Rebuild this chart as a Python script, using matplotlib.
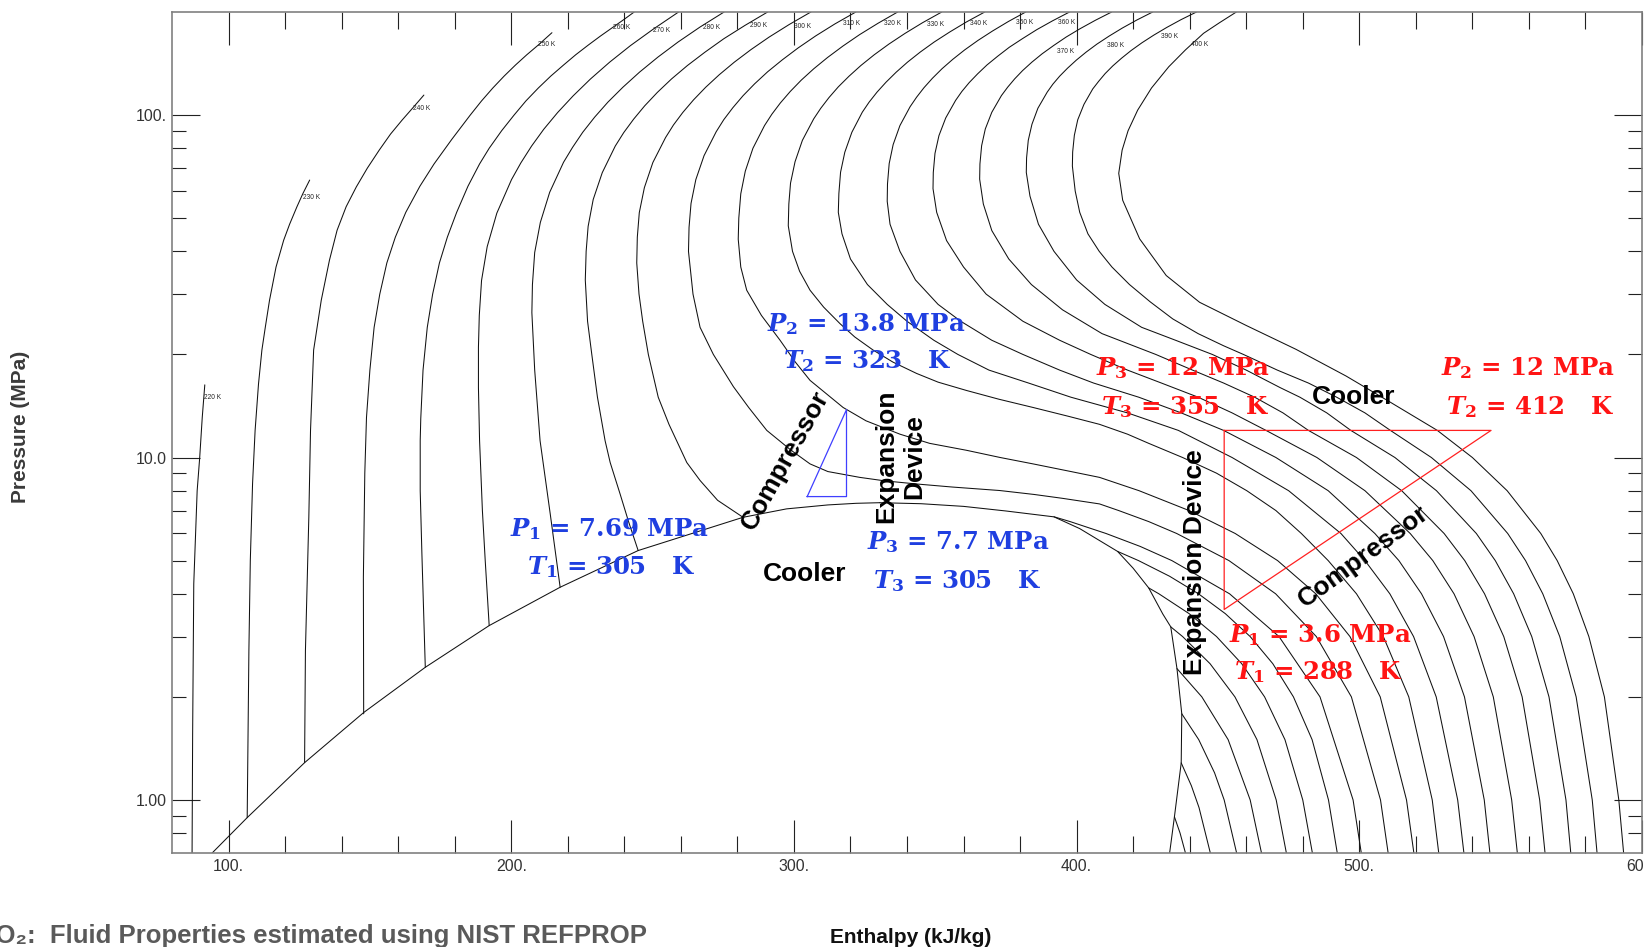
import matplotlib
matplotlib.use('Agg')
import matplotlib.pyplot as plt
from matplotlib.ticker import NullFormatter

plt.rcParams['mathtext.fontset'] = 'custom'
plt.rcParams['mathtext.it'] = 'DejaVu Serif:italic:bold'
plt.rcParams['mathtext.rm'] = 'DejaVu Serif:bold'
plt.rcParams['mathtext.bf'] = 'DejaVu Serif:bold'

# ---------------- data (enthalpy kJ/kg, pressure MPa) ----------------
dome_liq_h = [94.2, 106.6, 126.9, 147.8, 169.6, 192.2, 217.3, 244.9, 282.0, 297.4, 312.0, 322.0, 330.4]
dome_liq_p = [0.7, 0.888, 1.285, 1.80, 2.44, 3.23, 4.18, 5.35, 6.69, 7.08, 7.27, 7.35, 7.38]
dome_vap_h = [330.4, 345.0, 360.0, 375.0, 392.0, 401.1, 414.5, 420.0, 425.5, 430.5, 433.3, 435.5, 437.2, 437.0, 434.6, 432.9]
dome_vap_p = [7.38, 7.33, 7.2, 6.98, 6.71, 6.2, 5.318, 4.75, 4.161, 3.49, 3.203, 2.419, 1.785, 1.283, 0.893, 0.7]

iso_220_h = [91.6, 90.7, 89.8, 88.9, 87.7, 87.3, 87.1]
iso_220_p = [16.3, 13.1, 10.0, 8.0, 4.28, 1.56, 0.7]

iso_230_liq_h = [128.7, 126.3, 124.2, 121.6, 119.5, 116.8, 114.5, 113.0, 111.8, 110.6, 109.4, 108.5, 107.7, 107.2, 106.6]
iso_230_liq_p = [64.6, 59, 54, 48, 43.1, 36, 28.8, 24, 20.6, 16.4, 12, 8.4, 5, 2.73, 0.888]
iso_230_vap_h = [434.6, 436.6, 438.5]
iso_230_vap_p = [0.893, 0.8, 0.7]

iso_240_liq_h = [169.1, 165.2, 161.4, 157.3, 153.3, 149.1, 145.2, 141.6, 138.4, 135.7, 132.8, 130.1, 129.0, 128.4, 127.2, 126.9]
iso_240_liq_p = [114.4, 105, 96.7, 88, 79, 70, 61.7, 54, 46.1, 37.7, 28.8, 20.6, 12, 6.69, 2.73, 1.285]
iso_240_vap_h = [437.0, 440.6, 443.3, 447.3]
iso_240_vap_p = [1.283, 1.1, 0.95, 0.7]

iso_250_liq_h = [214.4, 209.5, 205.5, 201.5, 197.5, 193.5, 189.5, 185.5, 179.0, 172.7,
                 167.7, 162.7, 159.0, 156.0, 153.5, 151.5, 150.0, 148.8, 148.2, 147.7, 147.8]
iso_250_liq_p = [174, 160, 150, 140, 130, 120, 110, 100, 85, 72,
                 62, 52, 44, 37, 30, 24, 18, 13.1, 9, 4.47, 1.785]
iso_250_vap_h = [437.2, 443.2, 448.8, 452.2, 456.6]
iso_250_vap_p = [1.785, 1.5, 1.2, 1.0, 0.7]

iso_260_liq_h = [243.5, 239.8, 236.1, 231.5, 227.2, 222.8, 218.5, 214.0, 209.6, 205.2,
                 201.0, 196.6, 192.2, 188.8, 184.7, 180.7, 177.4, 174.6, 172.2, 170.3,
                 168.8, 168.0, 167.8, 167.8, 168.4, 169.6]
iso_260_liq_p = [200, 190, 180.8, 170, 160, 150, 140, 130, 120, 110,
                 100, 90, 80, 72, 62, 52, 44, 37, 30, 24,
                 18, 13, 11.2, 8, 5.23, 2.44]
iso_260_vap_h = [435.5, 444.3, 453.6, 461.4, 465.4]
iso_260_vap_p = [2.419, 2.0, 1.5, 1.0, 0.7]

iso_270_liq_h = [259.2, 250.4, 242.2, 234.8, 228.0, 221.9, 216.4, 211.5, 207.2, 203.4,
                 200.1, 194.9, 191.5, 189.5, 188.7, 188.4, 188.4, 188.8, 189.8, 190.8, 192.2]
iso_270_liq_p = [200, 178.6, 159.6, 142.7, 127.4, 113.8, 101.7, 90.9, 81.2, 72.5,
                 64.8, 51.7, 41.3, 32.9, 26, 21, 16, 11.2, 7, 5, 3.23]
iso_270_vap_h = [433.3, 437.5, 447.2, 456.0, 463.8, 470.6, 474.2]
iso_270_vap_p = [3.203, 3.0, 2.5, 2.0, 1.5, 1.0, 0.7]

iso_280_liq_h = [275.3, 266.8, 259.0, 251.9, 245.4, 239.5, 234.2, 229.5, 225.3, 221.7,
                 218.5, 213.6, 210.3, 208.3, 207.5, 207.3, 208.3, 210.2, 213.8, 217.3]
iso_280_liq_p = [200, 180.8, 163.4, 147.7, 133.5, 120.6, 109.1, 98.6, 89.1, 80.5,
                 72.8, 59.5, 48.6, 39.7, 32, 26.5, 18, 11.2, 6.84, 4.18]
iso_280_vap_h = [425.5, 429.1, 439.8, 449.5, 458.4, 466.5, 473.7, 480.0, 483.4]
iso_280_vap_p = [4.161, 4.0, 3.5, 3.0, 2.5, 2.0, 1.5, 1.0, 0.7]

iso_290_liq_h = [290.7, 282.7, 275.2, 268.5, 262.3, 256.7, 251.7, 247.2, 243.3, 239.8,
                 236.8, 232.2, 229.0, 227.2, 226.5, 226.2, 227.0, 228.5, 230.5, 233.2,
                 235.0, 238.5, 241.5, 244.9]
iso_290_liq_p = [200, 182.8, 167.1, 152.6, 139.5, 127.5, 116.5, 106.4, 97.3, 88.9,
                 81.2, 67.9, 56.7, 47.3, 40, 33, 25, 20, 15, 11.2,
                 9.67, 7.83, 6.5, 5.35]
iso_290_vap_h = [414.5, 421.9, 432.9, 443.1, 452.6, 461.4, 469.4, 476.7, 483.3, 489.1, 492.2]
iso_290_vap_p = [5.318, 5.0, 4.5, 4.0, 3.5, 3.0, 2.5, 2.0, 1.5, 1.0, 0.7]

iso_300_liq_h = [306.0, 298.3, 291.2, 284.8, 278.9, 273.6, 268.8, 264.5, 260.7, 257.4,
                 254.6, 250.1, 247.1, 245.3, 244.6, 244.4, 245.2, 246.5, 248.5, 252.0,
                 255.8, 258.5, 262.1, 266.8, 273.0, 282.0]
iso_300_liq_p = [200, 183.8, 168.9, 155.3, 142.7, 131.2, 120.6, 110.8, 101.8, 93.6,
                 86.0, 72.7, 61.4, 51.9, 44, 37, 30, 25, 20, 15,
                 12.5, 11.2, 9.67, 8.57, 7.5, 6.69]
iso_300_vap_h = [392.0, 397.7, 410.4, 422.5, 433.7, 454.1, 471.6, 486.1, 497.8, 500.7]
iso_300_vap_p = [6.713, 6.5, 6.0, 5.5, 5.0, 4.0, 3.0, 2.0, 1.0, 0.7]

iso_310_h = [321.9, 314.5, 307.7, 301.5, 295.9, 290.7, 286.1, 282.0, 278.4, 275.2,
             272.5, 268.2, 265.3, 263.6, 262.9, 262.7, 264.3, 266.8, 271.5, 278.6,
             284.0, 290.4, 299.0, 305.7, 312.0, 323.3, 332.0, 343.4, 356.0, 372.8,
             385.0, 395.0, 408.1, 414.9, 425.5, 435.4, 453.9, 470.4, 484.8, 497.2,
             507.5, 510.2]
iso_310_p = [200, 184.6, 170.3, 157.1, 145.0, 133.8, 123.4, 113.9, 105.1, 97.0,
             89.4, 76.1, 64.8, 55.2, 47, 40, 30, 24, 20, 16.1,
             14, 12, 10.5, 9.58, 9.1, 8.75, 8.55, 8.37, 8.2, 8.01,
             7.8, 7.6, 7.32, 7.0, 6.5, 6.0, 5.0, 4.0, 3.0, 2.0,
             1.0, 0.7]

iso_320_h = [336.7, 329.7, 323.2, 317.3, 311.9, 307.0, 302.6, 298.7, 295.2, 292.2,
             289.6, 285.5, 282.8, 281.2, 280.5, 280.3, 281.2, 283.3, 288.5, 295.1,
             300.5, 305.7, 317.4, 325.5, 337.5, 348.0, 361.0, 373.0, 384.6, 398.0,
             408.1, 422.1, 439.8, 456.1, 471.1, 484.6, 496.7, 507.4, 516.7, 519.3]
iso_320_p = [200, 185.3, 171.7, 159.0, 147.3, 136.5, 126.5, 117.2, 108.5, 100.6,
             93.2, 80.0, 68.6, 58.9, 50, 43.4, 36, 30.8, 26, 22,
             19, 16.8, 14, 12.8, 11.7, 11, 10.5, 10, 9.58, 9.1,
             8.75, 8, 7, 6, 5, 4, 3, 2, 1, 0.7]

iso_330_h = [352.3, 345.5, 339.3, 333.6, 328.4, 323.7, 319.5, 315.7, 312.4, 309.5,
             307.0, 303.0, 300.4, 298.8, 298.2, 298.0, 299.5, 302.0, 305.7, 310.5,
             316.3, 321.5, 328.0, 335.0, 343.4, 351.0, 361.0, 372.5, 384.6, 397.0,
             408.1, 418.0, 425.5, 437.5, 449.5, 460.2, 470.5, 479.5, 489.0, 499.0,
             508.5, 517.5, 525.8, 528.1]
iso_330_p = [200, 186.1, 173.2, 161.2, 150.0, 139.6, 129.9, 120.9, 112.5, 104.7,
             97.5, 84.4, 73.1, 63.3, 55, 47.5, 40, 35, 30.8, 27.5,
             24.6, 22.5, 20.6, 19, 17.6, 16.6, 15.7, 14.8, 14, 13.2,
             12.5, 11.7, 11, 10, 9, 8, 7, 6, 5, 4,
             3, 2, 1, 0.7]

iso_340_h = [367.5, 361.0, 355.1, 349.6, 344.7, 340.2, 336.2, 332.6, 329.4, 326.6,
             324.2, 320.5, 318.0, 316.5, 315.9, 315.7, 317.0, 320.0, 326.0, 333.0,
             340.0, 349.5, 358.0, 369.0, 383.0, 398.0, 418.0, 436.0, 455.0, 475.0,
             493.5, 502.0, 510.8, 519.2, 527.2, 534.8, 537.0]
iso_340_p = [200, 187.0, 174.8, 163.4, 152.8, 142.8, 133.5, 124.8, 116.7, 109.1,
             102.0, 89.1, 77.9, 68.1, 59, 52, 45, 38, 32, 28,
             25, 22, 20, 18, 16.5, 15, 13.5, 12, 10, 8,
             6, 5, 4, 3, 2, 1, 0.7]

iso_350_h = [382.0, 375.9, 370.3, 365.1, 360.4, 356.2, 352.4, 349.0, 346.0, 343.4,
             341.1, 337.5, 335.1, 333.7, 333.1, 333.0, 334.0, 337.5, 343.0, 351.0,
             359.0, 370.0, 381.0, 394.0, 406.0, 422.0, 437.0, 452.0, 470.5, 489.0,
             505.5, 514.0, 522.0, 529.8, 537.2, 544.2, 546.2]
iso_350_p = [200, 187.7, 176.1, 165.2, 155.0, 145.5, 136.6, 128.1, 120.2, 112.8,
             105.8, 93.2, 82.0, 72.2, 63, 56, 48, 40, 33, 28,
             25, 22, 20, 18, 16.5, 15, 13.5, 12, 10, 8,
             6, 5, 4, 3, 2, 1, 0.7]

iso_360_h = [397.5, 391.5, 385.9, 380.9, 376.2, 372.1, 368.3, 365.0, 362.0, 359.4,
             357.2, 353.7, 351.3, 349.9, 349.3, 349.2, 350.5, 354.0, 360.0, 368.0,
             381.0, 394.0, 405.0, 418.0, 430.0, 443.0, 455.0, 467.0, 485.0, 502.0,
             518.0, 526.0, 533.5, 540.6, 547.4, 553.9, 555.9]
iso_360_p = [200, 188.5, 177.6, 167.3, 157.8, 148.6, 140.1, 132.0, 124.4, 117.2,
             110.4, 98.1, 87.1, 77.3, 68, 61, 52, 43, 36, 30,
             25, 22, 20, 18, 16.5, 15, 13.5, 12, 10, 8,
             6, 5, 4, 3, 2, 1, 0.7]

iso_370_h = [412.4, 406.6, 401.2, 396.3, 391.9, 387.8, 384.2, 380.9, 378.1, 375.6,
             373.4, 370.0, 367.7, 366.4, 365.8, 365.7, 367.0, 370.0, 376.0, 384.0,
             395.0, 409.0, 428.0, 441.0, 452.0, 463.0, 473.0, 482.0, 499.0, 515.0,
             530.0, 537.3, 544.3, 551.1, 557.6, 563.8, 565.7]
iso_370_p = [200, 189.1, 178.7, 169.0, 159.7, 151.0, 142.8, 134.9, 127.6, 120.6,
             114.0, 101.9, 91.1, 81.4, 72, 65, 55, 46, 38, 32,
             27, 23, 20, 18, 16.5, 15, 13.5, 12, 10, 8,
             6, 5, 4, 3, 2, 1, 0.7]

iso_380_h = [426.9, 421.3, 416.2, 411.5, 407.2, 403.4, 399.9, 396.8, 394.0, 391.6,
             389.6, 386.3, 384.2, 382.9, 382.3, 382.2, 383.5, 386.5, 392.0, 400.0,
             410.0, 423.0, 435.0, 448.0, 460.0, 472.0, 479.0, 488.5, 497.0, 512.6,
             527.3, 541.4, 548.1, 554.6, 561.0, 567.1, 573.1, 574.8]
iso_380_p = [200, 189.5, 179.6, 170.1, 161.2, 152.8, 144.7, 137.1, 129.9, 123.1,
             116.7, 104.7, 94.0, 84.4, 75, 68, 58, 48, 40, 33,
             28, 24, 22, 20, 18, 16, 15, 13.5, 12, 10,
             8, 6, 5, 4, 3, 2, 1, 0.7]

iso_390_h = [442.4, 436.9, 431.9, 427.3, 423.1, 419.3, 415.9, 412.8, 410.1, 407.8,
             405.7, 402.6, 400.4, 399.2, 398.6, 398.5, 399.5, 401.1, 404.0, 408.0,
             412.5, 418.7, 426.0, 434.0, 443.0, 452.0, 459.0, 471.0, 482.0, 492.0,
             502.0, 511.0, 525.5, 539.5, 552.5, 558.8, 564.9, 570.9, 576.7, 582.4,
             584.1]
iso_390_p = [200, 189.9, 180.3, 171.2, 162.6, 154.4, 146.6, 139.2, 132.2, 125.5,
             119.2, 107.5, 96.9, 87.3, 78, 71, 60, 52, 45, 40,
             36, 32, 28.5, 25.4, 23, 21.2, 20, 18, 16.5, 15,
             13.5, 12, 10, 8, 6, 5, 4, 3, 2, 1,
             0.7]

iso_400_h = [456.5, 450.5, 444.9, 438.5, 432.6, 426.5, 421.6, 418.2, 416.1, 414.9,
             416.3, 422.3, 431.7, 443.5, 460.0, 477.6, 495.3, 511.0, 527.6, 540.0,
             552.3, 564.2, 570.0, 575.7, 581.2, 586.7, 591.8, 593.5]
iso_400_p = [200, 186, 173.3, 155, 138.4, 120, 103.4, 90, 79, 67.6,
             56.4, 43.5, 34.0, 28.4, 24.3, 20.7, 17.3, 14.5, 12, 10,
             8, 6, 5, 4, 3, 2, 1, 0.7]

iso_label_text = ['220 K', '230 K', '240 K', '250 K', '260 K', '270 K', '280 K', '290 K', '300 K', '310 K',
                  '320 K', '330 K', '340 K', '350 K', '360 K', '370 K', '380 K', '390 K', '400 K']
iso_label_h = [91.3, 126.2, 165.4, 209.4, 236.1, 250.0, 267.9, 284.5, 300.0, 317.2,
               331.8, 346.9, 362.4, 378.4, 393.4, 393.1, 410.7, 429.9, 440.6]
iso_label_p = [14.95, 57.4, 104.3, 160.3, 180.8, 176.2, 180.8, 182.8, 182.0, 184.9,
               184.9, 183.6, 184.9, 185.8, 185.8, 153.5, 159.2, 169.1, 160.6]

# cycles
blue_cycle_h = [304.7, 318.6, 318.6, 304.7]
blue_cycle_p = [7.69, 7.69, 13.8, 7.69]
red_cycle_h = [452.2, 546.6, 452.2, 452.2]
red_cycle_p = [12.0, 12.0, 3.6, 12.0]

x_major = [100, 200, 300, 400, 500, 600]
x_major_labels = ['100.', '200.', '300.', '400.', '500.', '600.']
x_minor = [120, 140, 160, 180, 220, 240, 260, 280, 320, 340, 360, 380,
           420, 440, 460, 480, 520, 540, 560, 580]
y_major = [1, 10, 100]
y_major_labels = ['1.00', '10.0', '100.']
y_minor = [0.8, 0.9, 2, 3, 4, 5, 6, 7, 8, 9, 20, 30, 40, 50, 60, 70, 80, 90]

# ---------------- figure ----------------
W, H = 1644, 947
fig = plt.figure(figsize=(W / 100, H / 100), dpi=100)
ax = fig.add_axes([172 / W, 1 - 853 / H, 1470 / W, 841 / H])
ax.set_yscale('log')
ax.set_xlim(80, 600)
ax.set_ylim(0.7, 200)

lc = '#111111'
lw = 0.75
curves = [
    (dome_liq_h, dome_liq_p), (dome_vap_h, dome_vap_p),
    (iso_220_h, iso_220_p),
    (iso_230_liq_h, iso_230_liq_p), (iso_230_vap_h, iso_230_vap_p),
    (iso_240_liq_h, iso_240_liq_p), (iso_240_vap_h, iso_240_vap_p),
    (iso_250_liq_h, iso_250_liq_p), (iso_250_vap_h, iso_250_vap_p),
    (iso_260_liq_h, iso_260_liq_p), (iso_260_vap_h, iso_260_vap_p),
    (iso_270_liq_h, iso_270_liq_p), (iso_270_vap_h, iso_270_vap_p),
    (iso_280_liq_h, iso_280_liq_p), (iso_280_vap_h, iso_280_vap_p),
    (iso_290_liq_h, iso_290_liq_p), (iso_290_vap_h, iso_290_vap_p),
    (iso_300_liq_h, iso_300_liq_p), (iso_300_vap_h, iso_300_vap_p),
    (iso_310_h, iso_310_p), (iso_320_h, iso_320_p), (iso_330_h, iso_330_p),
    (iso_340_h, iso_340_p), (iso_350_h, iso_350_p), (iso_360_h, iso_360_p),
    (iso_370_h, iso_370_p), (iso_380_h, iso_380_p), (iso_390_h, iso_390_p),
    (iso_400_h, iso_400_p),
]
for hh, pp in curves:
    ax.plot(hh, pp, color=lc, lw=lw, solid_joinstyle='round', solid_capstyle='round')

narrow = ['Liberation Sans Narrow', 'Liberation Sans', 'DejaVu Sans']
for t, hx, py in zip(iso_label_text, iso_label_h, iso_label_p):
    ax.text(hx, py, t, fontsize=4.8, family=narrow, color='#222222', ha='left', va='center')

ax.plot(blue_cycle_h, blue_cycle_p, color='#3f3fff', lw=0.9)
ax.plot(red_cycle_h, red_cycle_p, color='#ff2020', lw=0.9)

# ticks
ax.set_xticks(x_major)
ax.set_xticklabels(x_major_labels)
ax.set_xticks(x_minor, minor=True)
ax.set_yticks(y_major)
ax.set_yticklabels(y_major_labels)
ax.set_yticks(y_minor, minor=True)
ax.yaxis.set_minor_formatter(NullFormatter())
ax.xaxis.set_minor_formatter(NullFormatter())
ax.tick_params(which='both', direction='in', top=True, right=True, color='#222222', width=0.8)
ax.tick_params(axis='x', which='major', length=24, pad=4)
ax.tick_params(axis='x', which='minor', length=12)
ax.tick_params(axis='y', which='major', length=20.5, pad=3.5)
ax.tick_params(axis='y', which='minor', length=10)
for lab in ax.get_xticklabels() + ax.get_yticklabels():
    lab.set_family(narrow)
    lab.set_fontsize(11.4)
    lab.set_color('#333333')
for sp in ax.spines.values():
    sp.set_color('#808080')
    sp.set_linewidth(1.2)

# cycle annotations
blue = '#1f3fe0'
red = '#ff1414'
serif = dict(family='DejaVu Serif', fontweight='bold', fontsize=17.6, ha='left', va='baseline')
ax.text(290.4, 23.4, r'$P_2$ = 13.8 MPa', color=blue, **serif)
ax.text(296.2, 18.3, r'$T_2$ = 323   K', color=blue, **serif)
ax.text(199.6, 5.915, r'$P_1$ = 7.69 MPa', color=blue, **serif)
ax.text(205.5, 4.571, r'$T_1$ = 305   K', color=blue, **serif)
ax.text(325.7, 5.41, r'$P_3$ = 7.7 MPa', color=blue, **serif)
ax.text(328.0, 4.148, r'$T_3$ = 305   K', color=blue, **serif)
ax.text(406.8, 17.37, r'$P_3$ = 12 MPa', color=red, **serif)
ax.text(408.7, 13.42, r'$T_3$ = 355   K', color=red, **serif)
ax.text(528.8, 17.37, r'$P_2$ = 12 MPa', color=red, **serif)
ax.text(530.7, 13.42, r'$T_2$ = 412   K', color=red, **serif)
ax.text(453.8, 2.884, r'$P_1$ = 3.6 MPa', color=red, **serif)
ax.text(455.7, 2.254, r'$T_1$ = 288   K', color=red, **serif)

sans = ['Liberation Sans', 'DejaVu Sans']
bk = dict(family=sans, fontweight='bold', fontsize=19, color='black')
ax.text(303.9, 4.37, 'Cooler', ha='center', va='baseline', **bk)
ax.text(498.0, 14.36, 'Cooler', ha='center', va='baseline', **bk)
ax.text(297.1, 9.80, 'Compressor', rotation=60.8, ha='center', va='center', **bk)
ax.text(501.4, 5.134, 'Compressor', rotation=36.2, ha='center', va='center', **bk)
ax.text(337.7, 10.07, 'Expansion\nDevice', rotation=90, ha='center', va='center',
        multialignment='center', linespacing=1.2, **bk)
ax.text(442.0, 4.965, 'Expansion Device', rotation=90, ha='center', va='center', **bk)

# axis titles and footnote
fig.text(21 / W, 1 - 427 / H, 'Pressure (MPa)', rotation=90, ha='center', va='center',
         family=sans, fontweight='bold', fontsize=15, color='#3a3a3a')
fig.text(910.8 / W, (H - 943) / H, 'Enthalpy (kJ/kg)', ha='center', va='baseline',
         family=sans, fontweight='bold', fontsize=15, color='#111111')
fig.text(647 / W, (H - 943) / H, 'CO\u2082:  Fluid Properties estimated using NIST REFPROP',
         ha='right', va='baseline', family=sans, fontweight='bold', fontsize=18.5, color='#5a5a5a')

fig.savefig('out.png', dpi=100)
